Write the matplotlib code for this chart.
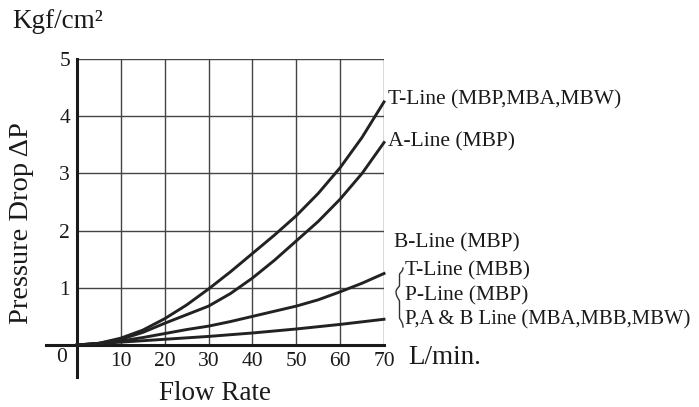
import numpy as np
import matplotlib
matplotlib.use('Agg')
from matplotlib import pyplot as plt

plt.rcParams['font.family'] = ['Liberation Serif', 'DejaVu Serif']

# flow rate (L/min) and pressure drop (Kgf/cm2)
flow = [0, 5, 10, 15, 20, 25, 30, 35, 40, 45, 50, 55, 60, 65, 70]
t_line = [0, 0.03, 0.12, 0.26, 0.46, 0.70, 0.98, 1.28, 1.60, 1.92, 2.26, 2.65, 3.10, 3.63, 4.25]
a_line = [0, 0.03, 0.10, 0.22, 0.38, 0.53, 0.68, 0.90, 1.17, 1.48, 1.82, 2.16, 2.55, 3.00, 3.54]
b_line = [0, 0.02, 0.07, 0.13, 0.20, 0.27, 0.33, 0.41, 0.50, 0.59, 0.68, 0.79, 0.93, 1.08, 1.25]
flow_low = [0, 10, 20, 30, 40, 50, 60, 70]
low_line = [0, 0.05, 0.10, 0.15, 0.21, 0.28, 0.36, 0.45]

xticks = [10, 20, 30, 40, 50, 60, 70]
yticks = [1, 2, 3, 4, 5]

W, H = 699, 407
fig = plt.figure(figsize=(W / 100, H / 100), dpi=100)
ax = fig.add_axes([77 / W, 62 / H, 307 / W, 286 / H])
ax.set_xlim(0, 70)
ax.set_ylim(0, 5)

# grid
for x in xticks:
    ax.axvline(x, color='#444444', lw=1.0, zorder=1)
for y in yticks:
    ax.axhline(y, color='#444444', lw=1.0, zorder=1)
for s in ax.spines.values():
    s.set_visible(False)

# thick axes that stick out past the origin
ax.plot([0, 0], [-0.56, 5], color='#1a1a1a', lw=2.2, clip_on=False, zorder=3)
ax.plot([-7.1, 70], [0, 0], color='#1a1a1a', lw=2.2, clip_on=False, zorder=3)

lc = '#222222'
ax.plot(flow, t_line, color=lc, lw=2.1, zorder=4, clip_on=False)
ax.plot(flow, a_line, color=lc, lw=2.1, zorder=4, clip_on=False)
ax.plot(flow, b_line, color=lc, lw=2.1, zorder=4, clip_on=False)
ax.plot(flow_low, low_line, color=lc, lw=2.1, zorder=4, clip_on=False)

ax.set_xticks(xticks)
ax.set_xticklabels([str(v) for v in xticks])
ax.set_yticks(yticks)
ax.set_yticklabels([str(v) for v in yticks])
ax.tick_params(length=0, labelsize=15.5, pad=5, colors='#1a1a1a')
fig.text(62 / W, 1 - 358 / H, '0', ha='center', va='center', fontsize=15.5, color='#1a1a1a')

# titles around the frame
fig.text(12 / W, 1 - 22 / H, 'Kgf/cm²', fontsize=19.5, va='center', ha='left', color='#1a1a1a')
fig.text(22 / W, 1 - 223 / H, 'Pressure Drop ΔP', fontsize=20.5, rotation=90,
         va='center', ha='center', color='#1a1a1a')
fig.text(215 / W, 1 - 393 / H, 'Flow Rate', fontsize=19.5, va='center', ha='center', color='#1a1a1a')
fig.text(408 / W, 1 - 358 / H, 'L/min.', fontsize=19.5, va='center', ha='left', color='#1a1a1a')

# curve labels
def lab(px, py, s, fs=15.5):
    fig.text(px / W, 1 - py / H, s, fontsize=fs, va='center', ha='left', color='#1a1a1a')

lab(388, 100, 'T-Line (MBP,MBA,MBW)')
lab(388, 142, 'A-Line (MBP)')
lab(394, 243, 'B-Line (MBP)')
lab(405, 271, 'T-Line (MBB)')
lab(405, 296, 'P-Line (MBP)')
lab(405, 320, 'P,A & B Line (MBA,MBB,MBW)', fs=14.9)

# curly brace in pixel coords: cusp at left, curls at right
def half(ya, yb, xl, xr, n=30):
    # from curl end (ya) to cusp (yb)
    u = np.linspace(0, 1, n)
    y = ya + (yb - ya) * u
    xc = (xl + xr) / 2
    x = np.full_like(u, xc)
    e = u < 0.25
    x[e] = xc + (xr - xc) * np.cos(u[e] / 0.25 * np.pi / 2)
    m = u > 0.75
    x[m] = xc - (xc - xl) * np.sin((u[m] - 0.75) / 0.25 * np.pi / 2)
    return x, y

def brace(xl, xr, ytop, ycusp, ybot):
    x1, y1 = half(ytop, ycusp, xl, xr)
    x2, y2 = half(ybot, ycusp, xl, xr)
    xs = np.concatenate([x1, x2[::-1]])
    ys = np.concatenate([y1, y2[::-1]])
    fig.lines.append(plt.Line2D(xs / W, 1 - ys / H, transform=fig.transFigure,
                                color='#333333', lw=1.0))

brace(396, 403, 268, 292, 327)

fig.savefig('out.png', dpi=100)
